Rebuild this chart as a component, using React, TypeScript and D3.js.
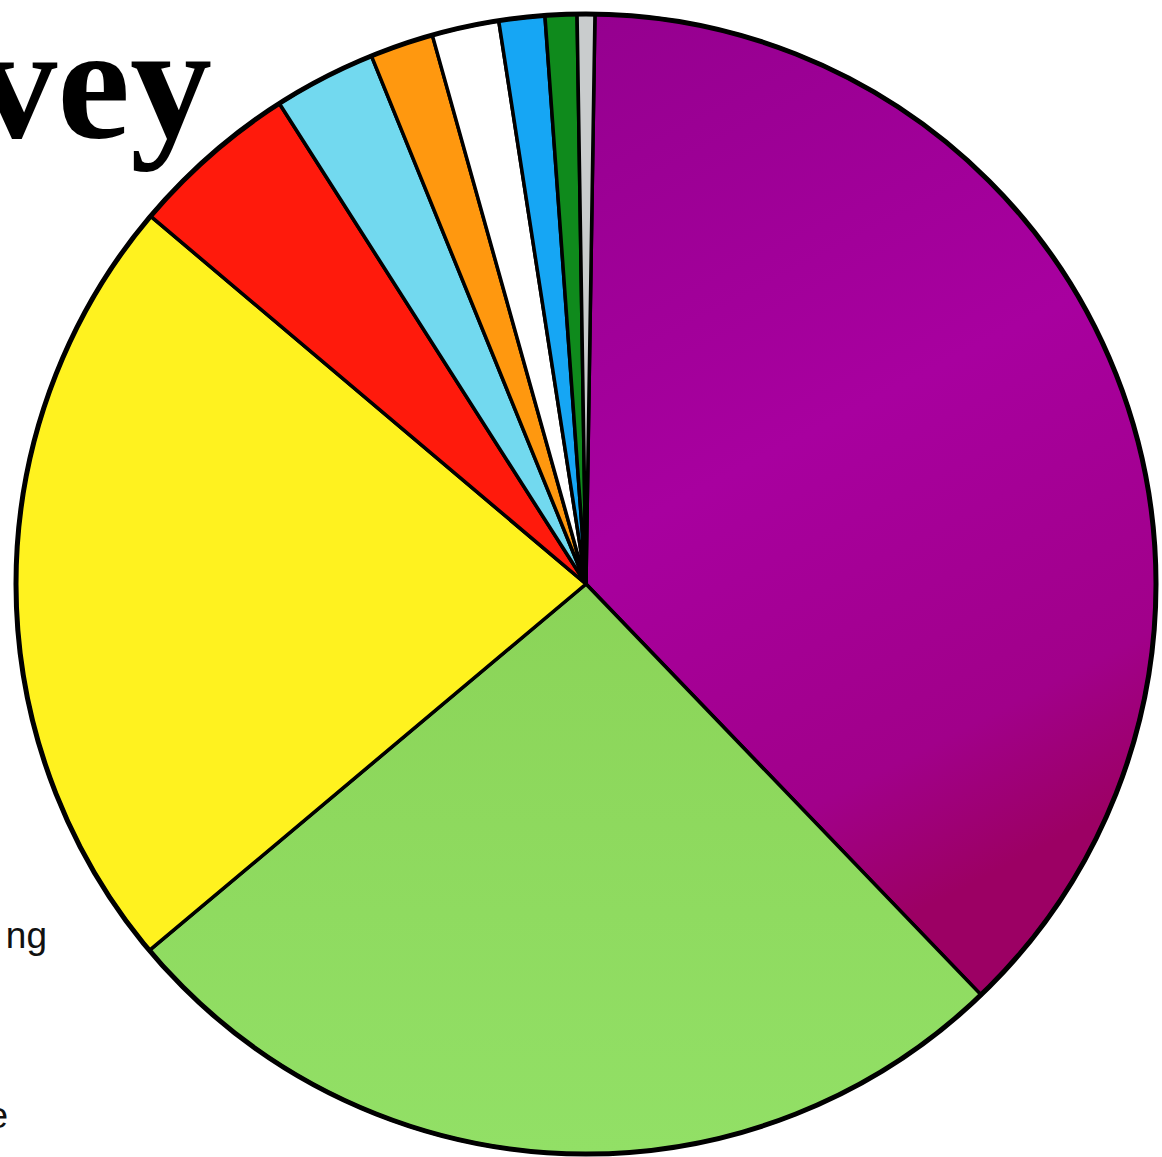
import React from "react";
import * as d3 from "d3";

const categories = ["A", "B", "C", "D", "E", "F", "G", "H", "I", "J"];
const shares = [37.6, 26.1, 22.3, 4.8, 2.9, 1.8, 1.9, 1.3, 0.9, 0.5];
const sliceColors = [
  "url(#purpleGrad)",
  "url(#greenGrad)",
  "#fff21f",
  "#ff1a0c",
  "#72d9ef",
  "#ff980f",
  "#ffffff",
  "#16a6f4",
  "#0f8a1c",
  "#c9cccd",
];
const titleText = "Survey";
const sideLabels = ["ng", "e"];

const W = 1162;
const H = 1157;
const cx = 586;
const cy = 584;
const R = 570;
const startDeg = 0.9;

export default function App() {
  const data = categories.map((c, i) => ({ c, v: shares[i], color: sliceColors[i] }));
  const start = (startDeg * Math.PI) / 180;
  const pie = d3
    .pie<any>()
    .value((d) => d.v)
    .sort(null)
    .startAngle(start)
    .endAngle(start + 2 * Math.PI);
  const arc = d3.arc<any>().innerRadius(0).outerRadius(R);
  const arcs = pie(data);

  return (
    <svg
      width={W}
      height={H}
      style={{ position: "absolute", left: 0, top: 0, display: "block", background: "#fff" }}
    >
      <defs>
        <linearGradient id="purpleGrad" x1="0" y1="0" x2="0.3" y2="1">
          <stop offset="0%" stopColor="#95008f" />
          <stop offset="50%" stopColor="#a8009f" />
          <stop offset="85%" stopColor="#a1008a" />
          <stop offset="100%" stopColor="#9c0064" />
        </linearGradient>
        <linearGradient id="greenGrad" x1="0" y1="0" x2="0" y2="1">
          <stop offset="0%" stopColor="#8bd458" />
          <stop offset="100%" stopColor="#92e066" />
        </linearGradient>
      </defs>
      <text
        x={212}
        y={137}
        textAnchor="end"
        fontFamily="'Liberation Serif', 'Times New Roman', serif"
        fontWeight="bold"
        fontSize={164}
        fill="#000"
      >
        {titleText}
      </text>
      <text
        x={47}
        y={948}
        textAnchor="end"
        fontFamily="'Liberation Sans', Arial, sans-serif"
        fontSize={37}
        fill="#111"
      >
        {sideLabels[0]}
      </text>
      <text
        x={8}
        y={1128}
        textAnchor="end"
        fontFamily="'Liberation Sans', Arial, sans-serif"
        fontSize={37}
        fill="#111"
      >
        {sideLabels[1]}
      </text>
      <g transform={`translate(${cx},${cy})`}>
        {arcs.map((a, i) => (
          <path
            key={i}
            d={arc(a) as string}
            fill={a.data.color}
            stroke="#000"
            strokeWidth={3.5}
            strokeLinejoin="round"
          />
        ))}
        <circle r={R} fill="none" stroke="#000" strokeWidth={5} />
      </g>
    </svg>
  );
}
